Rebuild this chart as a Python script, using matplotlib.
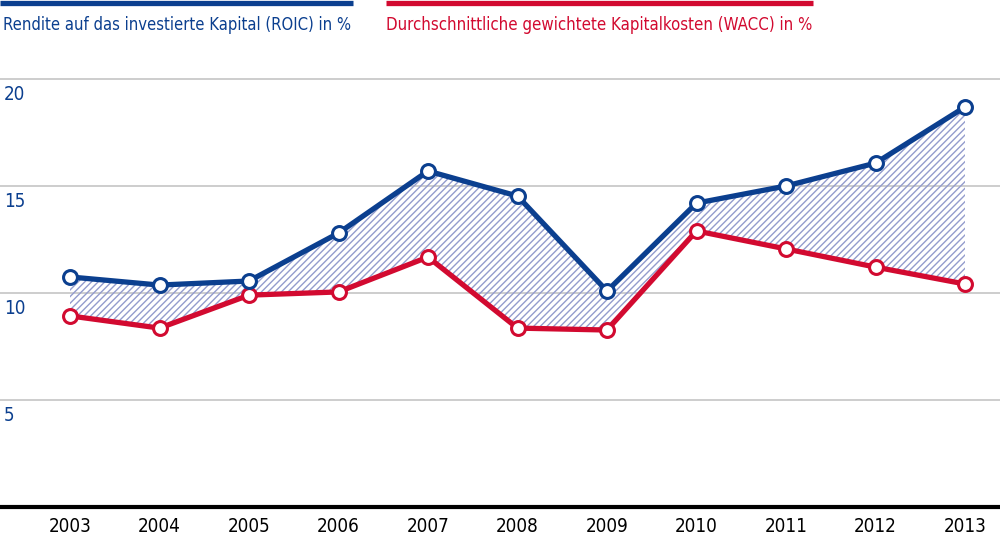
import numpy as np
import matplotlib
matplotlib.use('Agg')
import matplotlib.pyplot as plt
from matplotlib.lines import Line2D

years = [2003, 2004, 2005, 2006, 2007, 2008, 2009, 2010, 2011, 2012, 2013]
roic = [10.75, 10.37, 10.56, 12.8, 15.7, 14.53, 10.09, 14.2, 15.0, 16.07, 18.69]
wacc = [8.93, 8.36, 9.9, 10.05, 11.68, 8.36, 8.27, 12.9, 12.06, 11.21, 10.42]
y_ticks = [5, 10, 15, 20]
roic_label = 'Rendite auf das investierte Kapital (ROIC) in %'
wacc_label = 'Durchschnittliche gewichtete Kapitalkosten (WACC) in %'

BLUE = '#0b3f8f'
RED = '#d20a30'
HATCH = '#939ccd'
GRID = '#c9c9c9'

plt.rcParams['font.family'] = ['DejaVu Sans']
plt.rcParams['font.stretch'] = 'condensed'
plt.rcParams['hatch.linewidth'] = 1.0

W, H = 1000, 543
fig = plt.figure(figsize=(W / 100, H / 100), dpi=100)
ax = fig.add_axes([0, 36 / H, 1, 428 / H])
ax.set_xlim(2003 - 70 / 89.5, 2013 + 35 / 89.5)
ax.set_ylim(0, 20)

# gridlines + y labels (placed under the line, left aligned)
for t in y_ticks:
    ax.axhline(t, color=GRID, lw=1.3, zorder=0, clip_on=False)
    ax.annotate(str(t), xy=(0, t), xycoords=('axes fraction', 'data'),
                xytext=(4, -6), textcoords='offset pixels',
                ha='left', va='top', fontsize=13.5, color=BLUE)

# hatched area between the two series
ax.fill_between(years, roic, wacc, facecolor='none', edgecolor=HATCH,
                linewidth=0, hatch='/////', zorder=1)

ax.plot(years, wacc, color=RED, lw=3.8, marker='o', ms=10,
        mfc='white', mec=RED, mew=2.2, zorder=3, clip_on=False)
ax.plot(years, roic, color=BLUE, lw=3.8, marker='o', ms=10,
        mfc='white', mec=BLUE, mew=2.2, zorder=4, clip_on=False)

for s in ['top', 'right', 'left']:
    ax.spines[s].set_visible(False)
ax.spines['bottom'].set_color('black')
ax.spines['bottom'].set_linewidth(3)
ax.set_yticks([])
ax.set_xticks(years)
ax.set_xticklabels([str(y) for y in years], fontsize=13.5, color='black')
ax.tick_params(axis='x', length=0, pad=7)

# legend: thick bars with text below
fig.add_artist(Line2D([0, 353 / W], [1 - 2.5 / H] * 2, color=BLUE, lw=3.8,
                      solid_capstyle='butt'))
fig.add_artist(Line2D([386 / W, 813 / W], [1 - 2.5 / H] * 2, color=RED, lw=3.8,
                      solid_capstyle='butt'))
t1 = fig.text(3 / W, 1 - 16 / H, roic_label, ha='left', va='top',
              fontsize=14, color=BLUE)
t2 = fig.text(386 / W, 1 - 16 / H, wacc_label, ha='left', va='top',
              fontsize=14, color=RED)

# shrink legend texts so they span the same width as their bars
r = fig.canvas.get_renderer()
for t, target in [(t1, 350), (t2, 427)]:
    w = t.get_window_extent(r).width
    t.set_fontsize(14 * target / w)

fig.savefig('out.png', dpi=100)
